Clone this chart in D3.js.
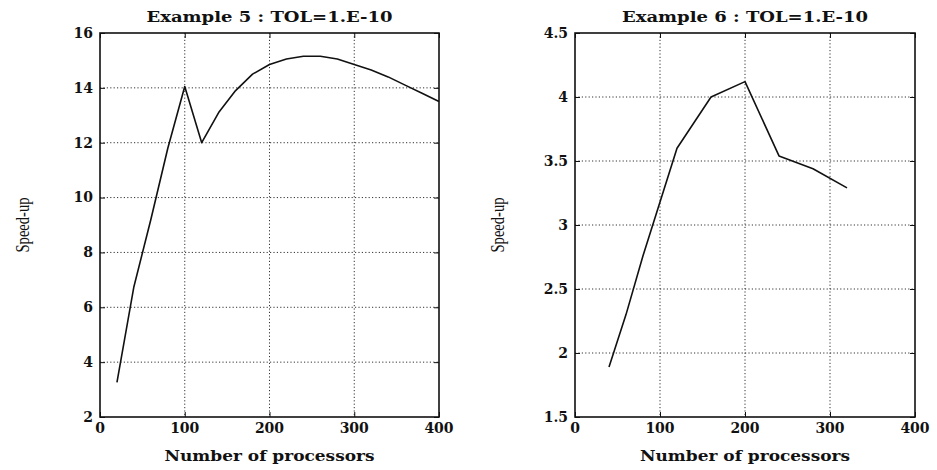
<!DOCTYPE html>
<html>
<head>
<meta charset="utf-8">
<script src="https://cdn.jsdelivr.net/npm/d3@7"></script>
<style>
  body { margin: 0; background: #fff; }
  .tick-label { font-family: "DejaVu Serif", serif; font-size: 14px; font-weight: bold; fill: #111; }
  .title { font-family: "DejaVu Serif", serif; font-size: 15px; font-weight: bold; fill: #111; }
  .xlabel { font-family: "DejaVu Serif", serif; font-size: 14px; font-weight: bold; fill: #111; }
  .ylabel { font-family: "Liberation Serif", serif; font-size: 18px; fill: #111; }
</style>
</head>
<body>
<div id="chart"></div>
<script>
// Example 5 data
var procs5 = [20, 40, 60, 80, 100, 120, 140, 160, 180, 200, 220, 240, 260, 280, 300, 320, 340, 360, 380, 400];
var speedup5 = [3.26, 6.75, 9.2, 11.8, 14.05, 12.0, 13.1, 13.9, 14.5, 14.85, 15.05, 15.15, 15.15, 15.05, 14.85, 14.65, 14.4, 14.1, 13.8, 13.5];

// Example 6 data
var procs6 = [40, 60, 80, 100, 120, 160, 200, 240, 280, 320];
var speedup6 = [1.89, 2.3, 2.76, 3.18, 3.6, 4.0, 4.12, 3.54, 3.44, 3.29];

// ticks
var xTicks = [0, 100, 200, 300, 400];
var yTicks5 = [2, 4, 6, 8, 10, 12, 14, 16];
var yTicks6 = [1.5, 2, 2.5, 3, 3.5, 4, 4.5];

var titles = ["Example 5 : TOL=1.E-10", "Example 6 : TOL=1.E-10"];
var xLabel = "Number of processors";
var yLabel = "Speed-up";

var W = 937, H = 470;
var svg = d3.select("#chart").append("svg")
    .attr("width", W)
    .attr("height", H);

function drawPanel(left, right, xs, ys, yTicks, yDomain, title) {
    var top = 33, bottom = 417;
    var x = d3.scaleLinear().domain([0, 400]).range([left, right]);
    var y = d3.scaleLinear().domain(yDomain).range([bottom, top]);
    var g = svg.append("g");

    // dotted grid
    g.selectAll(".vgrid").data(xTicks.slice(1, -1)).enter().append("line")
        .attr("x1", function(d) { return x(d); })
        .attr("x2", function(d) { return x(d); })
        .attr("y1", top).attr("y2", bottom)
        .attr("stroke", "#333").attr("stroke-width", 1)
        .attr("stroke-dasharray", "1.2,2.2");
    g.selectAll(".hgrid").data(yTicks.slice(1, -1)).enter().append("line")
        .attr("y1", function(d) { return y(d); })
        .attr("y2", function(d) { return y(d); })
        .attr("x1", left).attr("x2", right)
        .attr("stroke", "#333").attr("stroke-width", 1)
        .attr("stroke-dasharray", "1.2,2.2");

    // inward ticks, all four sides
    var tl = 5;
    g.append("g").attr("transform", "translate(0," + bottom + ")")
        .call(d3.axisTop(x).tickValues(xTicks).tickSize(tl).tickFormat(""))
        .call(function(a) { a.select(".domain").remove(); a.selectAll("line").attr("stroke", "#111"); });
    g.append("g").attr("transform", "translate(0," + top + ")")
        .call(d3.axisBottom(x).tickValues(xTicks).tickSize(tl).tickFormat(""))
        .call(function(a) { a.select(".domain").remove(); a.selectAll("line").attr("stroke", "#111"); });
    g.append("g").attr("transform", "translate(" + left + ",0)")
        .call(d3.axisRight(y).tickValues(yTicks).tickSize(tl).tickFormat(""))
        .call(function(a) { a.select(".domain").remove(); a.selectAll("line").attr("stroke", "#111"); });
    g.append("g").attr("transform", "translate(" + right + ",0)")
        .call(d3.axisLeft(y).tickValues(yTicks).tickSize(tl).tickFormat(""))
        .call(function(a) { a.select(".domain").remove(); a.selectAll("line").attr("stroke", "#111"); });

    // frame
    g.append("rect")
        .attr("x", left).attr("y", top)
        .attr("width", right - left).attr("height", bottom - top)
        .attr("fill", "none").attr("stroke", "#111").attr("stroke-width", 1.6);

    // tick labels
    g.selectAll(".xl").data(xTicks).enter().append("text")
        .attr("class", "tick-label")
        .attr("x", function(d) { return x(d); })
        .attr("y", bottom + 16)
        .attr("text-anchor", "middle")
        .text(function(d) { return d; });
    g.selectAll(".yl").data(yTicks).enter().append("text")
        .attr("class", "tick-label")
        .attr("x", left - 7)
        .attr("y", function(d) { return y(d); })
        .attr("dy", "0.35em")
        .attr("text-anchor", "end")
        .text(function(d) { return d; });

    // the curve
    var line = d3.line()
        .x(function(d, i) { return x(xs[i]); })
        .y(function(d) { return y(d); });
    g.append("path")
        .datum(ys)
        .attr("d", line)
        .attr("fill", "none")
        .attr("stroke", "#111")
        .attr("stroke-width", 1.6)
        .attr("stroke-linejoin", "round");

    // title and axis labels
    var cx = (left + right) / 2;
    g.append("text").attr("class", "title")
        .attr("x", cx).attr("y", 22)
        .attr("text-anchor", "middle")
        .attr("textLength", 246).attr("lengthAdjust", "spacingAndGlyphs")
        .text(title);
    g.append("text").attr("class", "xlabel")
        .attr("x", cx).attr("y", 461)
        .attr("text-anchor", "middle")
        .attr("textLength", 210).attr("lengthAdjust", "spacingAndGlyphs")
        .text(xLabel);
    g.append("text").attr("class", "ylabel")
        .attr("transform", "translate(" + (left - 71) + "," + ((top + bottom) / 2) + ") rotate(-90)")
        .attr("text-anchor", "middle")
        .attr("textLength", 55).attr("lengthAdjust", "spacingAndGlyphs")
        .text(yLabel);
}

drawPanel(100, 439, procs5, speedup5, yTicks5, [2, 16], titles[0]);
drawPanel(575, 915, procs6, speedup6, yTicks6, [1.5, 4.5], titles[1]);
</script>
</body>
</html>
